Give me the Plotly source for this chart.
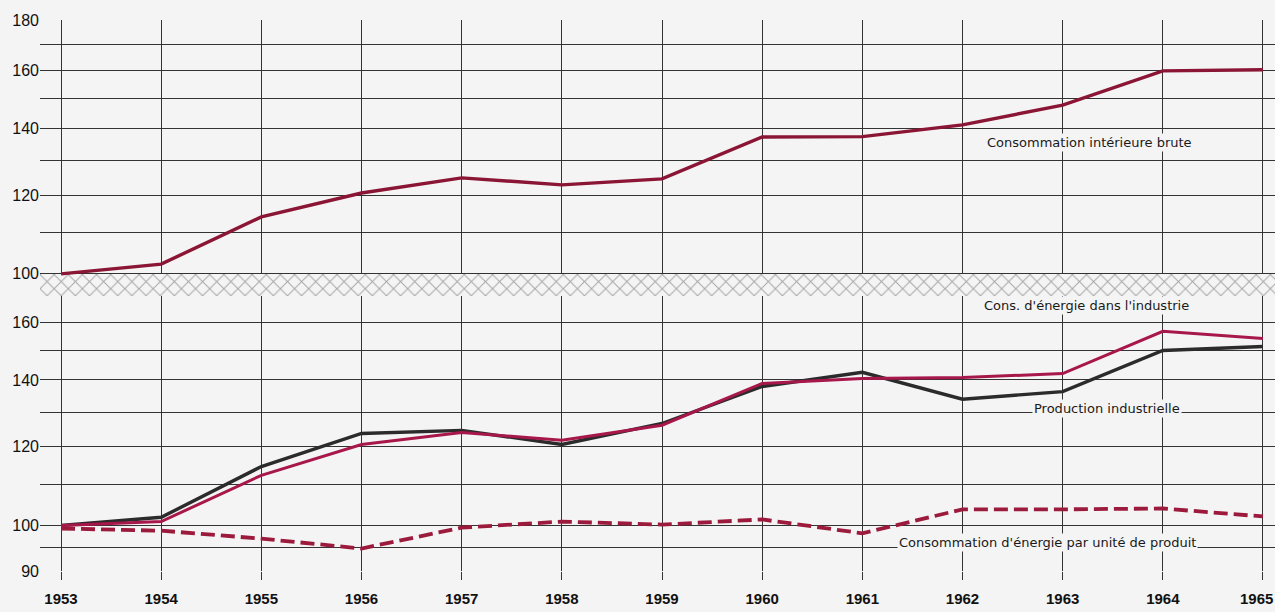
import plotly.graph_objects as go
import numpy as np

years = [1953, 1954, 1955, 1956, 1957, 1958, 1959, 1960, 1961, 1962, 1963, 1964, 1965]
year_labels = [str(y) for y in years]

# Top panel
cons_interieure_brute = [100, 102.3, 114.1, 120.6, 124.9, 122.9, 124.6, 137.3, 137.4, 141.2, 147.8, 160.0, 160.4]

# Bottom panel
cons_energie_industrie = [100, 100.9, 112.3, 120.6, 124.0, 121.8, 126.1, 138.9, 140.5, 140.8, 142.1, 156.7, 154.1]
production_industrielle = [100, 101.9, 114.6, 123.7, 124.6, 120.6, 126.6, 137.9, 142.5, 133.9, 136.3, 149.9, 151.3]
cons_par_unite = [99.3, 98.8, 97.0, 94.8, 99.5, 100.9, 100.2, 101.4, 98.2, 103.8, 103.8, 104.0, 102.1]

top_ticks = [95, 100, 110, 120, 130, 140, 150, 160, 170, 180]
top_labels = ["", "100", "", "120", "", "140", "", "160", "", "180"]
bot_ticks = [90, 95, 100, 110, 120, 130, 140, 150, 160, 170]
bot_labels = ["90", "", "100", "", "120", "", "140", "", "160", ""]

BG = "#f4f4f4"
GRID = "#333333"
X0, X1 = 1952.79, 1965.12

fig = go.Figure()

# hatched band between the two panels (top axis 95 -> 100)
fig.add_trace(go.Scatter(
    x=[X0, X1, X1, X0, X0], y=[95, 95, 100, 100, 95], yaxis="y2",
    mode="lines", line=dict(width=0), fill="toself",
    fillcolor=BG,
    fillpattern=dict(shape="x", fgcolor="#555555", bgcolor=BG, size=10, solidity=0.18),
    hoverinfo="skip", showlegend=False))

fig.add_trace(go.Scatter(
    x=years, y=cons_interieure_brute, yaxis="y2", mode="lines",
    line=dict(color="#8b1535", width=3.4), showlegend=False,
    name="Consommation intérieure brute"))

fig.add_trace(go.Scatter(
    x=years, y=production_industrielle, yaxis="y", mode="lines",
    line=dict(color="#2b2b2b", width=3.4), showlegend=False,
    name="Production industrielle"))

fig.add_trace(go.Scatter(
    x=years, y=cons_energie_industrie, yaxis="y", mode="lines",
    line=dict(color="#a8174a", width=3.0), showlegend=False,
    name="Cons. d'énergie dans l'industrie"))

fig.add_trace(go.Scatter(
    x=years, y=cons_par_unite, yaxis="y", mode="lines",
    line=dict(color="#9c1a3c", width=3.8, dash="14px,6px"), showlegend=False,
    name="Consommation d'énergie par unité de produit"))

lab_font = dict(family="DejaVu Sans", size=13, color="#1a1a1a")
annots = [
    dict(text="Consommation intérieure brute", x=1963.27, y=135.4, yref="y2"),
    dict(text="Cons. d'énergie dans l'industrie", x=1963.24, y=166.4, yref="y"),
    dict(text="Production industrielle", x=1963.44, y=131.1, yref="y"),
    dict(text="Consommation d'énergie par unité de produit", x=1962.85, y=96.1, yref="y"),
]
for a in annots:
    fig.add_annotation(text=a["text"], x=a["x"], y=np.log10(a["y"]), xref="x", yref=a["yref"],
                       showarrow=False, font=lab_font, bgcolor=BG, borderpad=1)

# last year label, kept inside the page's right edge
tick_font = dict(family="Liberation Sans", size=15, color="#111", weight="bold")
fig.add_annotation(text=year_labels[-1], xref="paper", x=1, xanchor="right",
                   yref="paper", y=0, yanchor="middle", yshift=-27,
                   showarrow=False, font=tick_font)

fig.update_layout(
    width=1275, height=612,
    margin=dict(l=40, r=0, t=20, b=41),
    paper_bgcolor=BG, plot_bgcolor=BG,
    xaxis=dict(range=[X0, X1], tickvals=years, ticktext=year_labels[:-1] + [""],
               showgrid=True, gridcolor=GRID, gridwidth=1, zeroline=False,
               ticks="outside", ticklen=8, tickcolor=GRID, ticklabelstandoff=6,
               tickfont=tick_font, anchor="y", automargin=False),
    yaxis=dict(type="log", range=[np.log10(90), np.log10(170)], domain=[0, 0.499],
               tickvals=bot_ticks, ticktext=bot_labels,
               showgrid=True, gridcolor=GRID, gridwidth=1, zeroline=False,
               tickfont=dict(family="Liberation Sans", size=16, color="#111"),
               anchor="x", automargin=False),
    yaxis2=dict(type="log", range=[np.log10(95), np.log10(180)], domain=[0.499, 1],
                tickvals=top_ticks, ticktext=top_labels,
                showgrid=True, gridcolor=GRID, gridwidth=1, zeroline=False,
                tickfont=dict(family="Liberation Sans", size=16, color="#111"),
                anchor="x", automargin=False),
)

fig.write_html("out.html", config={"displayModeBar": False},
               post_script="document.body.style.margin='0';document.body.style.background='#f4f4f4';")
